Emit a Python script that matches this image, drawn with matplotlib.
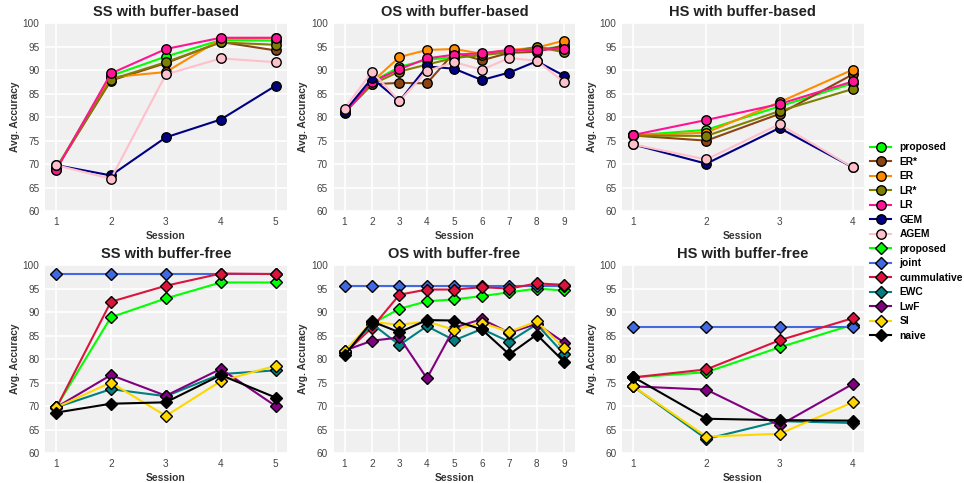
import matplotlib
matplotlib.use("Agg")
import matplotlib.pyplot as plt
from matplotlib.lines import Line2D

plt.rcParams['font.family'] = ['Liberation Sans', 'DejaVu Sans']

# ---------------- data ----------------
bb_methods = ['proposed', 'ER*', 'ER', 'LR*', 'LR', 'GEM', 'AGEM']
bb_colors = ['#00ff00', '#8b4513', '#ff8c00', '#808000', '#ff1493', '#000080', '#ffc0cb']

bf_methods = ['proposed', 'joint', 'cummulative', 'EWC', 'LwF', 'SI', 'naive']
bf_colors = ['#00ff00', '#4169e1', '#dc143c', '#008080', '#800080', '#ffd700', '#000000']

ss_bb = {
    'proposed': [69.0, 88.8, 92.9, 96.4, 96.3],
    'ER*':      [69.0, 87.8, 91.5, 96.0, 94.2],
    'ER':       [69.0, 88.5, 89.6, 96.6, 96.8],
    'LR*':      [69.0, 88.0, 91.7, 95.9, 95.4],
    'LR':       [68.7, 89.3, 94.5, 96.9, 96.9],
    'GEM':      [69.8, 67.6, 75.7, 79.5, 86.7],
    'AGEM':     [69.8, 66.9, 89.1, 92.5, 91.7],
}
os_bb = {
    'proposed': [81.0, 87.5, 90.7, 92.2, 92.8, 93.3, 94.0, 94.6, 94.9],
    'ER*':      [81.0, 87.0, 87.3, 87.2, 93.8, 92.1, 93.7, 93.9, 95.3],
    'ER':       [81.0, 87.5, 92.8, 94.3, 94.5, 93.5, 94.3, 94.8, 96.3],
    'LR*':      [81.0, 87.0, 89.7, 91.2, 92.6, 93.2, 93.8, 95.0, 93.8],
    'LR':       [80.8, 87.5, 90.2, 92.5, 93.3, 93.6, 94.3, 94.3, 94.6],
    'GEM':      [81.2, 88.3, 83.4, 90.8, 90.3, 87.9, 89.5, 91.9, 88.8],
    'AGEM':     [81.8, 89.7, 83.4, 89.8, 91.7, 90.1, 92.6, 92.0, 87.4],
}
hs_bb = {
    'proposed': [76.1, 77.3, 82.3, 87.2],
    'ER*':      [76.1, 75.0, 80.7, 89.1],
    'ER':       [76.1, 76.7, 83.2, 90.1],
    'LR*':      [76.1, 76.0, 81.3, 86.0],
    'LR':       [76.2, 79.4, 82.8, 87.6],
    'GEM':      [74.2, 70.1, 77.7, 69.3],
    'AGEM':     [74.2, 71.0, 78.5, 69.3],
}
ss_bf = {
    'proposed':    [69.7, 88.9, 92.9, 96.3, 96.3],
    'joint':       [98.1, 98.1, 98.1, 98.1, 98.1],
    'cummulative': [69.5, 92.2, 95.6, 98.2, 98.1],
    'EWC':         [69.7, 73.6, 72.1, 76.8, 77.6],
    'LwF':         [69.7, 76.6, 72.2, 77.9, 70.0],
    'SI':          [69.7, 75.0, 67.9, 75.3, 78.6],
    'naive':       [68.6, 70.5, 70.8, 76.6, 71.8],
}
os_bf = {
    'proposed':    [81.5, 87.5, 90.7, 92.3, 92.7, 93.4, 94.2, 95.0, 94.6],
    'joint':       [95.5, 95.5, 95.5, 95.5, 95.5, 95.5, 95.5, 95.5, 95.5],
    'cummulative': [81.2, 86.7, 93.7, 94.8, 94.8, 95.3, 95.0, 96.1, 95.8],
    'EWC':         [81.5, 87.5, 83.0, 87.0, 84.0, 86.4, 83.7, 87.4, 81.0],
    'LwF':         [81.8, 83.9, 84.6, 75.9, 86.7, 88.5, 85.6, 87.5, 83.5],
    'SI':          [81.7, 87.9, 87.3, 88.0, 86.2, 87.7, 85.8, 88.0, 82.3],
    'naive':       [80.8, 88.0, 85.7, 88.3, 88.2, 86.3, 81.0, 85.2, 79.4],
}
hs_bf = {
    'proposed':    [76.1, 77.2, 82.5, 87.3],
    'joint':       [86.8, 86.8, 86.8, 86.8],
    'cummulative': [76.1, 77.8, 84.0, 88.7],
    'EWC':         [74.2, 63.0, 66.8, 66.4],
    'LwF':         [74.2, 73.5, 65.9, 74.7],
    'SI':          [74.2, 63.5, 64.1, 70.8],
    'naive':       [76.2, 67.3, 67.0, 66.9],
}

panels = [
    ('SS with buffer-based', ss_bb, bb_methods, bb_colors, 'o'),
    ('OS with buffer-based', os_bb, bb_methods, bb_colors, 'o'),
    ('HS with buffer-based', hs_bb, bb_methods, bb_colors, 'o'),
    ('SS with buffer-free', ss_bf, bf_methods, bf_colors, 'D'),
    ('OS with buffer-free', os_bf, bf_methods, bf_colors, 'D'),
    ('HS with buffer-free', hs_bf, bf_methods, bf_colors, 'D'),
]

fig, axes = plt.subplots(2, 3, figsize=(9.64, 4.83), dpi=100)
fig.subplots_adjust(left=0.0467, right=0.896, top=0.952, bottom=0.062,
                    wspace=0.194, hspace=0.287)

for ax, (title, data, methods, colors, marker) in zip(axes.flat, panels):
    ax.set_facecolor('#f0f0f0')
    for m, c in zip(methods, colors):
        vals = data[m]
        xs = list(range(1, len(vals) + 1))
        ms = 6.8 if marker == 'o' else 6
        ax.plot(xs, vals, color=c, lw=1.5, marker=marker, markersize=ms,
                markerfacecolor=c, markeredgecolor='black', markeredgewidth=1.0)
    n = len(data[methods[0]])
    ax.set_xticks(range(1, n + 1))
    ax.set_ylim(60, 100)
    ax.set_yticks(range(60, 101, 5))
    ax.set_title(title, fontsize=10.5, fontweight='bold', color='#222222', pad=5)
    ax.set_xlabel('Session', fontsize=7.4, fontweight='bold', color='#333333', labelpad=3)
    ax.set_ylabel('Avg. Accuracy', fontsize=7.4, fontweight='bold', color='#333333', labelpad=2)
    ax.grid(True, color='white', linewidth=1.2)
    ax.set_axisbelow(True)
    for s in ax.spines.values():
        s.set_visible(False)
    ax.tick_params(length=0, labelsize=7.2, labelcolor='#444444', pad=4)

handles = []
labels = []
for m, c in zip(bb_methods, bb_colors):
    handles.append(Line2D([], [], color=c, lw=1.5, marker='o', markersize=6.8,
                          markerfacecolor=c, markeredgecolor='black', markeredgewidth=1.0))
    labels.append(m)
for m, c in zip(bf_methods, bf_colors):
    handles.append(Line2D([], [], color=c, lw=1.5, marker='D', markersize=6,
                          markerfacecolor=c, markeredgecolor='black', markeredgewidth=1.0))
    labels.append(m)

fig.legend(handles, labels, loc='center left', bbox_to_anchor=(0.903, 0.5),
           frameon=False, prop={'weight': 'bold', 'size': 7.4}, labelspacing=0.44,
           handlelength=2.0, handletextpad=0.8, borderaxespad=0, borderpad=0)

fig.savefig('out.png', dpi=100)
